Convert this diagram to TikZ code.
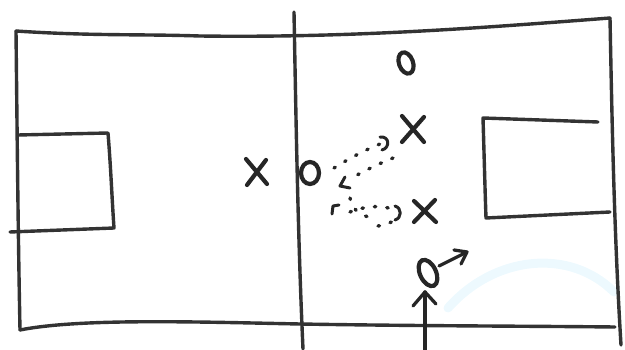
\documentclass[tikz,border=0pt]{standalone}
\usetikzlibrary{arrows.meta,calc}
\begin{document}
\begin{tikzpicture}[x=1pt,y=-1pt,
  pen/.style={line width=3.4pt,line cap=round,line join=round,draw=black!80},
  plmark/.style={line width=4.2pt,line cap=round,draw=black!85},
  dots/.style={line width=3.4pt,line cap=round,draw=black!85,dash pattern=on 1.5pt off 11pt},
  hook/.style={line width=3pt,line cap=round,line join=round,draw=black!85},
  arr/.style={line width=3.3pt,line cap=round,line join=round,draw=black!85}]
\useasboundingbox (0,0) rectangle (625,350);
% faint cyan arc
\draw[line width=9pt,color=cyan!7,line cap=round] (448,308) .. controls (495,255) and (570,248) .. (614,292);
% field outline
\draw[pen] (16,31) .. controls (90,36) and (140,34) .. (200,36) .. controls (350,38) and (480,28) .. (610,18);
\draw[pen] (16,31) .. controls (17,120) and (18,230) .. (20,330);
\draw[pen] (20,330) .. controls (80,318) and (200,322) .. (300,324) .. controls (420,326) and (520,326) .. (615,327);
\draw[pen] (610,18) .. controls (612,120) and (614,230) .. (621,345);
% midline
\draw[pen] (294,12) .. controls (296,120) and (298,240) .. (303,349);
% left penalty box
\draw[pen] (18,135) -- (108,133) .. controls (111,170) and (112,200) .. (114,228) -- (10,232);
% right penalty box
\draw[pen] (598,122) -- (483,118) .. controls (484,150) and (485,190) .. (486,218) -- (610,212);
% players
\coordinate (xl) at (256,171);
\coordinate (om) at (310,173);
\coordinate (ot) at (406,63);
\coordinate (xt) at (412,129);
\coordinate (xb) at (424,211);
\coordinate (ob) at (428,273);
\draw[plmark] ($(xl)+(-10,-12)$) -- ($(xl)+(11,13)$) ($(xl)+(10,-11)$) -- ($(xl)+(-9,14)$);
\draw[plmark] ($(xt)+(-10,-13)$) -- ($(xt)+(12,13)$) ($(xt)+(12,-12)$) -- ($(xt)+(-10,13)$);
\draw[plmark] ($(xb)+(-10,-10)$) -- ($(xb)+(12,11)$) ($(xb)+(11,-11)$) -- ($(xb)+(-10,11)$);
\draw[plmark] (om) ellipse [x radius=9pt,y radius=11pt];
\draw[plmark,rotate around={20:(ot)}] (ot) ellipse [x radius=7pt,y radius=11pt];
\draw[plmark,rotate around={25:(ob)}] (ob) ellipse [x radius=8pt,y radius=14pt];
% moving arrow of lower O
\coordinate (obs) at (439,266);
\coordinate (obt) at (467,252);
\draw[arr] (obs) -- (obt);
\draw[arr] (454,250) -- (obt) -- (461,264);
% bottom arrow
\coordinate (ba) at (425,350);
\coordinate (bt) at (425,292);
\draw[arr] (ba) -- (bt);
\draw[arr] (413,306) -- (bt) -- (436,304);
% dotted passes
\draw[dots] (334,168) .. controls (350,158) and (365,150) .. (380,144);
\draw[hook] (380,137) .. controls (390,136) and (390,148) .. (382,150);
\draw[dots] (393,158) .. controls (378,164) and (362,172) .. (350,179);
\draw[hook] (350,188) -- (340,186) -- (345,177);
\draw[dots] (350,198) .. controls (352,206) and (355,214) .. (372,218);
\draw[hook] (332,214) -- (333,206) -- (339,205);
\draw[dots] (350,212) .. controls (365,206) and (380,205) .. (392,209);
\draw[hook] (395,206) .. controls (402,208) and (402,218) .. (395,220);
\draw[dots] (378,226) .. controls (386,225) and (392,222) .. (395,220);
\end{tikzpicture}
\end{document}
